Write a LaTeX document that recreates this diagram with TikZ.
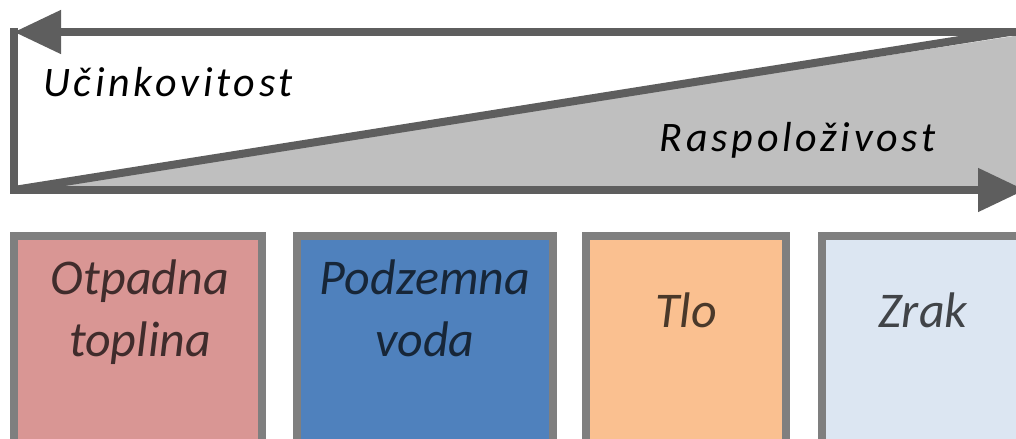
\documentclass[tikz,border=0pt]{standalone}
\usepackage{fontspec}
\setmainfont{Carlito}
\newfontfamily\spacedfont[LetterSpace=9]{Carlito}
\usetikzlibrary{arrows.meta}
\definecolor{framegray}{HTML}{5E5E5E}
\definecolor{wedgegray}{HTML}{BFBFBF}
\definecolor{boxgray}{HTML}{7F7F7F}
\definecolor{wastepink}{HTML}{D99694}
\definecolor{waterblue}{HTML}{4F81BD}
\definecolor{soilorange}{HTML}{FAC090}
\definecolor{airblue}{HTML}{DCE6F2}
\tikzset{
  frameline/.style={draw=framegray,line width=8bp},
  sourcebox/.style={draw=boxgray,line width=8bp,minimum height=243bp,inner sep=0pt},
  axislabel/.style={inner sep=0pt,font=\spacedfont\fontsize{42bp}{50bp}\selectfont\itshape},
  sourcelabel/.style={inner sep=0pt,align=center,text=black,text opacity=0.7,
    font=\fontsize{50bp}{62bp}\selectfont\itshape},
}
\begin{document}
\begin{tikzpicture}[>={Triangle[length=47bp,width=42bp]},line join=miter,]
\useasboundingbox (0bp,0bp) rectangle (1016bp,439bp);
\clip (0bp,0bp) rectangle (1016bp,439bp);
%%
\fill [wedgegray] (14bp,249bp) -- (1040bp,407bp) -- (1040bp,249bp) -- cycle;
\draw [frameline] (14bp,249bp) -- (1010bp,407bp);
%
\coordinate (top_end) at (1040bp,407bp);
  \coordinate (corner_top) at (14bp,407bp);
  \coordinate (corner_bottom) at (14bp,249bp);
  \coordinate (bottom_end) at (1025bp,249bp);
  \draw [frameline,->] (top_end) -- (corner_top);
  \draw [frameline,->] (14bp,411bp) -- (corner_bottom) -- (bottom_end);
%
\node (efficiency) at (43bp,342bp) [axislabel,anchor=base west] {Učinkovitost};
  \node (availability) at (936bp,287bp) [axislabel,anchor=base east] {Raspoloživost};
%%
\node (waste) at (138bp,81.5bp) [sourcebox,fill=wastepink,minimum width=248bp] {};
  \node (ground_water) at (425bp,81.5bp) [sourcebox,fill=waterblue,minimum width=256bp] {};
  \node (soil) at (686bp,81.5bp) [sourcebox,fill=soilorange,minimum width=200bp] {};
  \node (air) at (923bp,81.5bp) [sourcebox,fill=airblue,minimum width=202bp] {};
%
\node (waste_text) at (140bp,82bp) [sourcelabel,anchor=base] {Otpadna\\toplina};
  \node (ground_water_text) at (425bp,82bp) [sourcelabel,anchor=base] {Podzemna\\voda};
  \node (soil_text) at (686bp,111bp) [sourcelabel,anchor=base] {Tlo};
  \node (air_text) at (923bp,111bp) [sourcelabel,anchor=base] {Zrak};
%
\end{tikzpicture}
\end{document}
